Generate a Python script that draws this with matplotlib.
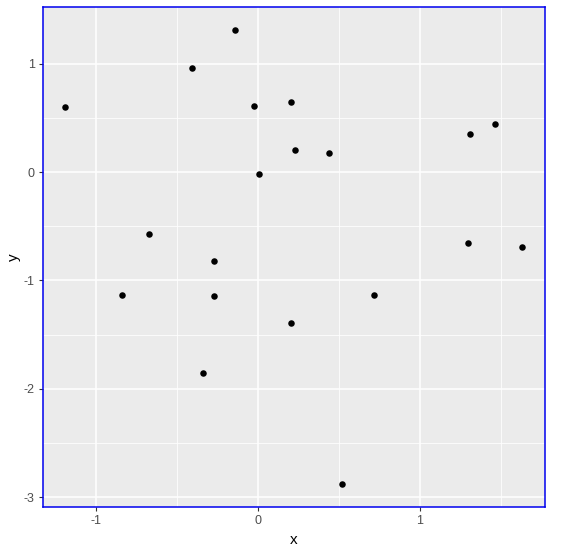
import matplotlib
matplotlib.use("Agg")
import matplotlib.pyplot as plt
import numpy as np

x = [-1.189, -0.142, -0.409, -0.025, 0.204, 0.229, 0.440, 0.006, 1.313, 1.467,
     -0.675, -0.272, -0.842, -0.272, 0.204, 0.718, 1.300, 1.635, -0.341, 0.520]
y = [0.599, 1.309, 0.959, 0.608, 0.645, 0.203, 0.175, -0.018, 0.350, 0.442,
     -0.571, -0.820, -1.134, -1.143, -1.392, -1.134, -0.654, -0.691, -1.853, -2.876]

xticks = [-1, 0, 1]
yticks = [-3, -2, -1, 0, 1]

plt.rcParams['font.family'] = ['Liberation Sans', 'DejaVu Sans']
plt.rcParams['axes.unicode_minus'] = False
W, H = 568, 552
fig = plt.figure(figsize=(W/100, H/100), dpi=100)
ax = fig.add_axes([43/W, 1-507/H, (545-43)/W, 500/H])
ax.set_facecolor('#EBEBEB')
ax.scatter(x, y, s=22, color='black', zorder=3, linewidths=0)
ax.set_xticks(xticks)
ax.set_yticks(yticks)
ax.set_xticks([-0.5, 0.5, 1.5], minor=True)
ax.set_yticks([-2.5, -1.5, -0.5, 0.5], minor=True)
ax.set_xlim(-1.327, 1.774)
ax.set_ylim(-3.088, 1.521)
ax.grid(which='major', color='white', linewidth=1.1)
ax.grid(which='minor', color='white', linewidth=0.55)
ax.set_axisbelow(True)
ax.tick_params(which='major', length=3, width=0.8, color='#333333', labelcolor='#4D4D4D', labelsize=9, pad=3)
ax.tick_params(which='minor', length=0)
for s in ax.spines.values():
    s.set_color('#0000EE')
    s.set_linewidth(1.1)
ax.set_xlabel('x', fontsize=11, color='black', labelpad=4)
ax.set_ylabel('y', fontsize=11, color='black', labelpad=2)
fig.savefig('out.png', dpi=100)
